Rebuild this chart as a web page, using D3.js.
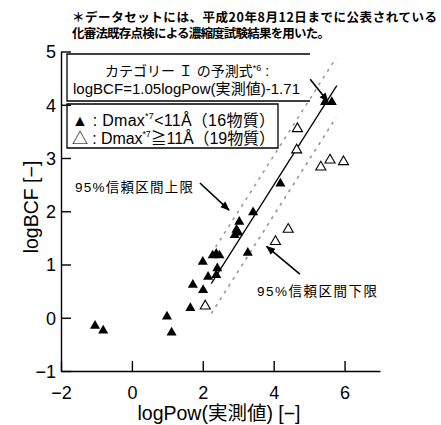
<!DOCTYPE html>
<html>
<head>
<meta charset="utf-8">
<script src="https://cdn.jsdelivr.net/npm/d3@7"></script>
<style>
  body { margin: 0; background: #fff; }
  text { font-family: "Liberation Sans", "Noto Sans CJK JP", sans-serif; fill: #000; }
  .jp { font-family: "Noto Sans CJK JP", sans-serif; }
</style>
</head>
<body>
<svg width="441" height="425"></svg>
<script>
// values: [logPow, logBCF]
var filledPts = [
  [-1.04, -0.15], [-0.81, -0.24], [0.99, 0.02], [1.12, -0.28],
  [1.65, 0.18], [1.72, 0.62], [2.01, 0.52], [2.00, 1.05],
  [2.15, 0.77], [2.28, 1.17], [2.38, 1.20], [2.47, 1.17],
  [2.41, 0.93], [2.38, 0.80], [2.90, 1.55], [2.95, 1.65],
  [3.03, 1.80], [3.00, 1.60], [3.27, 1.22], [3.42, 1.98],
  [4.19, 2.52], [5.45, 4.05], [5.64, 4.05]
];
var openPts = [
  [2.07, 0.22], [4.05, 1.43], [4.41, 1.66], [4.65, 3.15],
  [4.67, 3.55], [5.33, 2.83], [5.59, 2.96], [5.97, 2.93]
];

// regression line and 95% bounds (end points)
var regLine = [[2.24, 0.64], [5.78, 4.36]];
var upperCI = [[2.24, 1.20], [5.76, 4.88]];
var lowerCI = [[2.24, 0.08], [5.76, 3.76]];

var xTicks = [-2, 0, 2, 4, 6];
var yTicks = [-1, 0, 1, 2, 3, 4, 5];

// arrows: from -> to, in data units
var arrows = [
  [[1.92, 2.53], [2.74, 2.02]],
  [[4.74, 0.82], [3.80, 1.34]],
  [[5.03, 4.48], [5.53, 4.06]]
];

var svg = d3.select("svg");

var x = d3.scaleLinear().domain([-2, 7]).range([61, 380]);
var y = d3.scaleLinear().domain([-1, 5]).range([371, 51.5]);

// note at the top
svg.append("text").attr("class", "jp")
  .attr("x", 72).attr("y", 22)
  .attr("font-size", 12.5).attr("font-weight", "bold")
  .attr("textLength", 365).attr("lengthAdjust", "spacing")
  .text("＊データセットには、平成20年8月12日までに公表されている");
svg.append("text").attr("class", "jp")
  .attr("x", 72).attr("y", 38)
  .attr("font-size", 12.5).attr("font-weight", "bold")
  .attr("textLength", 258).attr("lengthAdjust", "spacing")
  .text("化審法既存点検による濃縮度試験結果を用いた。");

// axes, ticks point inward
var fmt = d3.format("d");
var xAxis = svg.append("g")
  .attr("transform", "translate(0,371)")
  .call(d3.axisBottom(x).tickValues(xTicks).tickFormat(fmt)
    .tickSizeInner(-10).tickSizeOuter(0).tickPadding(15));
var yAxis = svg.append("g")
  .attr("transform", "translate(61,0)")
  .call(d3.axisLeft(y).tickValues(yTicks).tickFormat(fmt)
    .tickSizeInner(-10).tickSizeOuter(0).tickPadding(5));

[xAxis, yAxis].forEach(function(a) {
  a.select(".domain").attr("stroke", "#000").attr("stroke-width", 1.4);
  a.selectAll(".tick line").attr("stroke", "#000").attr("stroke-width", 1.4);
  a.selectAll(".tick text")
    .attr("font-size", 18)
    .attr("font-family", "Liberation Sans, sans-serif");
});
yAxis.selectAll(".tick text").attr("dy", "0.36em");

// axis titles
svg.append("text")
  .attr("x", 219).attr("y", 420)
  .attr("text-anchor", "middle")
  .attr("font-size", 19.5)
  .text("logPow(実測値) [−]");
svg.append("text")
  .attr("transform", "translate(38,207) rotate(-90)")
  .attr("text-anchor", "middle")
  .attr("font-size", 19.5)
  .text("logBCF [−]");

// legend boxes
svg.append("path")
  .attr("d", "M310,54 H67 V101 H310")
  .attr("fill", "none").attr("stroke", "#000").attr("stroke-width", 1.3);
svg.append("path")
  .attr("d", "M67,104 H278 V148 H67 Z")
  .attr("fill", "none").attr("stroke", "#000").attr("stroke-width", 1.3);

var t1 = svg.append("text")
  .attr("x", 187).attr("y", 76)
  .attr("text-anchor", "middle").attr("font-size", 14);
t1.append("tspan").text("カテゴリー Ｉ の予測式");
t1.append("tspan").attr("font-size", 9).attr("dy", -5).text("*6");
t1.append("tspan").attr("dy", 5).text(" :");

svg.append("text")
  .attr("x", 73).attr("y", 94)
  .attr("font-size", 15)
  .attr("textLength", 227).attr("lengthAdjust", "spacing")
  .text("logBCF=1.05logPow(実測値)-1.71");

var legendRows = [
  { sym: "▲", rel: "<", txt: "11Å（16物質）" },
  { sym: "△", rel: "≧", txt: "11Å（19物質）" }
];
legendRows.forEach(function(r, i) {
  var t = svg.append("text")
    .attr("x", 72).attr("y", 126 + i * 18)
    .attr("font-size", 16)
    .attr("textLength", 203).attr("lengthAdjust", "spacing");
  t.append("tspan").text(r.sym + " : Dmax");
  t.append("tspan").attr("font-size", 9).attr("dy", -7).text("*7");
  t.append("tspan").attr("dy", 7).text(r.rel + r.txt);
});

// confidence bounds and fitted line
var line = d3.line().x(function(d) { return x(d[0]); }).y(function(d) { return y(d[1]); });

[upperCI, lowerCI].forEach(function(c) {
  svg.append("path").attr("d", line(c))
    .attr("fill", "none").attr("stroke", "#999")
    .attr("stroke-width", 1.6).attr("stroke-dasharray", "3,5");
});
svg.append("path").attr("d", line(regLine))
  .attr("fill", "none").attr("stroke", "#000").attr("stroke-width", 1.3);

// points
var tri = d3.symbol().type(d3.symbolTriangle).size(44);
svg.selectAll("path.open")
  .data(openPts)
  .enter()
  .append("path")
  .classed("open", true)
  .attr("d", tri)
  .attr("transform", function(d) { return "translate(" + x(d[0]) + "," + y(d[1]) + ")"; })
  .attr("fill", "#fff").attr("stroke", "#000").attr("stroke-width", 1.1);
svg.selectAll("path.filled")
  .data(filledPts)
  .enter()
  .append("path")
  .classed("filled", true)
  .attr("d", tri)
  .attr("transform", function(d) { return "translate(" + x(d[0]) + "," + y(d[1]) + ")"; })
  .attr("fill", "#000");

// arrows with labels
svg.append("defs").append("marker")
  .attr("id", "head")
  .attr("viewBox", "0 0 10 10")
  .attr("refX", 9).attr("refY", 5)
  .attr("markerWidth", 6).attr("markerHeight", 6)
  .attr("orient", "auto")
  .append("path").attr("d", "M0,1 L10,5 L0,9 z").attr("fill", "#000");

arrows.forEach(function(a) {
  svg.append("line")
    .attr("x1", x(a[0][0])).attr("y1", y(a[0][1]))
    .attr("x2", x(a[1][0])).attr("y2", y(a[1][1]))
    .attr("stroke", "#000").attr("stroke-width", 1.6)
    .attr("marker-end", "url(#head)");
});

svg.append("text")
  .attr("x", 75).attr("y", 192)
  .attr("font-size", 13.5)
  .attr("textLength", 118).attr("lengthAdjust", "spacing")
  .text("95%信頼区間上限");
svg.append("text")
  .attr("x", 257).attr("y", 296)
  .attr("font-size", 13.5)
  .attr("textLength", 120).attr("lengthAdjust", "spacing")
  .text("95%信頼区間下限");
</script>
</body>
</html>
